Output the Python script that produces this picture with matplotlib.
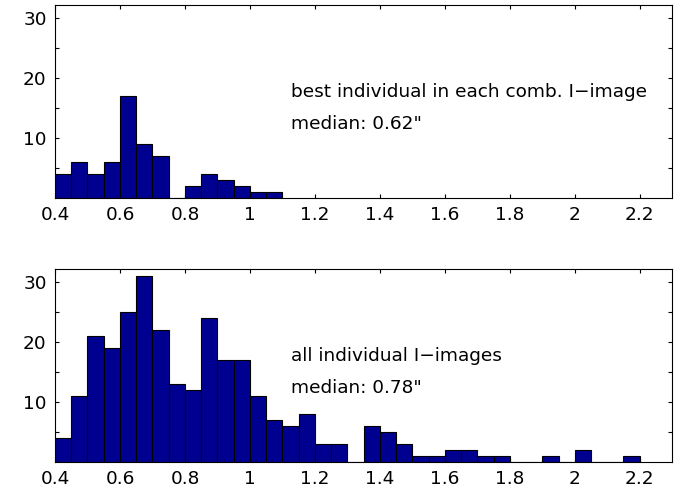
import numpy as np
import matplotlib
matplotlib.use('Agg')
import matplotlib.pyplot as plt

plt.rcParams['font.family'] = ['DejaVu Sans']
plt.rcParams['font.size'] = 13.3

# histogram bin left edges (width 0.05) and counts
bin_width = 0.05
best_edges = np.round(np.arange(0.40, 1.05 + 1e-9, bin_width), 2)
best_counts = [4, 6, 4, 6, 17, 9, 7, 0, 2, 4, 3, 2, 1, 1]

all_edges = np.round(np.arange(0.40, 2.15 + 1e-9, bin_width), 2)
all_counts = [4, 11, 21, 19, 25, 31, 22, 13, 12, 24, 17, 17,
              11, 7, 6, 8, 3, 3, 0, 6, 5, 3, 1, 1,
              2, 2, 1, 1, 0, 0, 1, 0, 2, 0, 0, 1]

xticks = [0.4, 0.6, 0.8, 1.0, 1.2, 1.4, 1.6, 1.8, 2.0, 2.2]
xtick_labels = ['0.4', '0.6', '0.8', '1', '1.2', '1.4', '1.6', '1.8', '2', '2.2']
yticks = [5, 10, 15, 20, 25, 30]
ytick_labels = ['', '10', '', '20', '', '30']

panels = [
    (best_edges, best_counts, ['best individual in each comb. I\u2212image', 'median: 0.62"']),
    (all_edges, all_counts, ['all individual I\u2212images', 'median: 0.78"']),
]

fig = plt.figure(figsize=(6.79, 4.90), dpi=100)
axes = [fig.add_axes([0.081, 0.596, 0.909, 0.394]),
        fig.add_axes([0.081, 0.057, 0.909, 0.394])]

for ax, (edges, counts, lines) in zip(axes, panels):
    ax.bar(edges, counts, width=bin_width, align='edge',
           color='#000090', edgecolor='black', linewidth=0.8)
    ax.set_xlim(0.4, 2.3)
    ax.set_ylim(0, 32.2)
    ax.set_xticks(xticks)
    ax.set_xticklabels(xtick_labels)
    ax.set_yticks(yticks)
    ax.set_yticklabels(ytick_labels)
    ax.tick_params(direction='in', length=3, top=True, right=True, pad=6)
    for s in ax.spines.values():
        s.set_linewidth(0.8)
    ax.text(1.125, 17.7, lines[0], va='center', ha='left')
    ax.text(1.125, 12.3, lines[1], va='center', ha='left')

fig.savefig('out.png', dpi=100)
